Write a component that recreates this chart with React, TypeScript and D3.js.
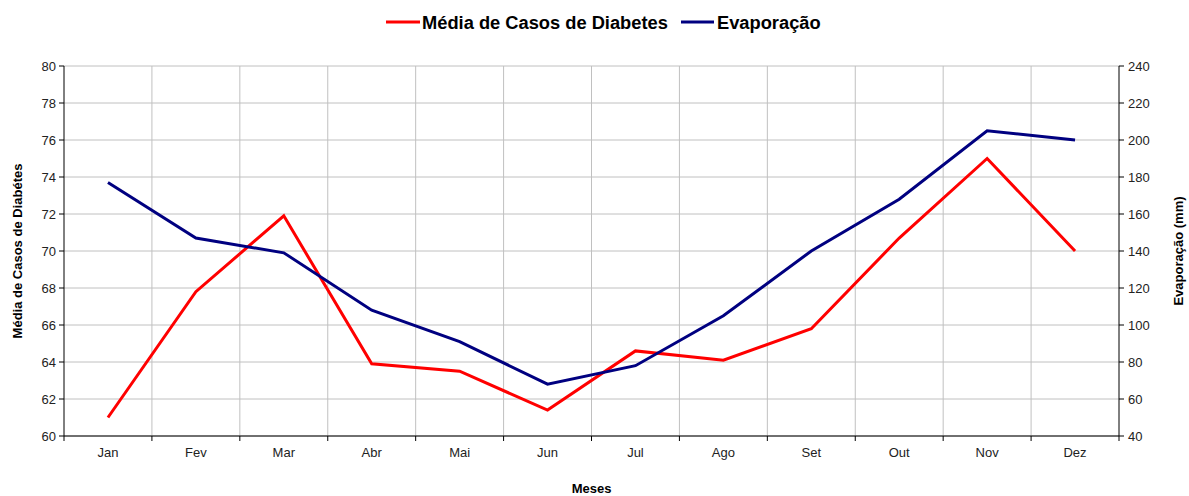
import React from "react";
import * as d3 from "d3";

const months = ["Jan", "Fev", "Mar", "Abr", "Mai", "Jun", "Jul", "Ago", "Set", "Out", "Nov", "Dez"];
const diabetes = [61.0, 67.8, 71.9, 63.9, 63.5, 61.4, 64.6, 64.1, 65.8, 70.7, 75.0, 70.0];
const evaporacao = [177, 147, 139, 108, 91, 68, 78, 105, 140, 168, 205, 200];
const leftTicks = [60, 62, 64, 66, 68, 70, 72, 74, 76, 78, 80];
const rightTicks = [40, 60, 80, 100, 120, 140, 160, 180, 200, 220, 240];

const W = 1189, H = 496;
const L = 64, R = 1119, T = 66, B = 436;
const FONT = "'Liberation Sans', Arial, Helvetica, sans-serif";

export default function App() {
  const x = d3.scaleBand<string>().domain(months).range([L, R]);
  const yL = d3.scaleLinear().domain([60, 80]).range([B, T]);
  const yR = d3.scaleLinear().domain([40, 240]).range([B, T]);
  const cx = (m: string) => (x(m) as number) + x.bandwidth() / 2;
  const lineL = d3.line<number>().x((_, i) => cx(months[i])).y((d) => yL(d));
  const lineR = d3.line<number>().x((_, i) => cx(months[i])).y((d) => yR(d));
  const boundaries = months.map((m) => x(m) as number).concat([R]);

  return (
    <svg width={W} height={H} style={{ position: "absolute", left: 0, top: 0 }} fontFamily={FONT}>
      <rect x={0} y={0} width={W} height={H} fill="#fff" />
      {leftTicks.map((t) => (
        <line key={"h" + t} x1={L} x2={R} y1={yL(t)} y2={yL(t)} stroke="#c0c0c0" strokeWidth={1} />
      ))}
      {boundaries.slice(1, -1).map((b, i) => (
        <line key={"v" + i} x1={b} x2={b} y1={T} y2={B} stroke="#c0c0c0" strokeWidth={1} />
      ))}
      <line x1={L} x2={L} y1={T} y2={B} stroke="#000" />
      <line x1={R} x2={R} y1={T} y2={B} stroke="#000" />
      <line x1={L} x2={R} y1={B} y2={B} stroke="#000" />
      {leftTicks.map((t) => (
        <g key={"lt" + t}>
          <line x1={L - 5} x2={L} y1={yL(t)} y2={yL(t)} stroke="#000" />
          <text x={L - 8} y={yL(t)} dy="0.35em" textAnchor="end" fontSize={13} fill="#222">{t}</text>
        </g>
      ))}
      {rightTicks.map((t) => (
        <g key={"rt" + t}>
          <line x1={R} x2={R + 5} y1={yR(t)} y2={yR(t)} stroke="#000" />
          <text x={R + 9} y={yR(t)} dy="0.35em" textAnchor="start" fontSize={13} fill="#222">{t}</text>
        </g>
      ))}
      {boundaries.map((b, i) => (
        <line key={"xt" + i} x1={b} x2={b} y1={B} y2={B + 5} stroke="#000" />
      ))}
      {months.map((m) => (
        <text key={m} x={cx(m)} y={457} textAnchor="middle" fontSize={13} fill="#222">{m}</text>
      ))}
      <path d={lineL(diabetes) || ""} fill="none" stroke="#ff0000" strokeWidth={3} />
      <path d={lineR(evaporacao) || ""} fill="none" stroke="#000080" strokeWidth={3} />
      <text x={(L + R) / 2} y={493} textAnchor="middle" fontSize={13} fontWeight="bold">Meses</text>
      <text transform={`translate(22,${(T + B) / 2}) rotate(-90)`} textAnchor="middle" fontSize={13} fontWeight="bold">Média de Casos de Diabétes</text>
      <text transform={`translate(1183,${(T + B) / 2}) rotate(-90)`} textAnchor="middle" fontSize={13} fontWeight="bold">Evaporação (mm)</text>
      <line x1={386} x2={420} y1={22} y2={22} stroke="#ff0000" strokeWidth={3} />
      <text x={422} y={29} fontSize={18.3} fontWeight="bold">Média de Casos de Diabetes</text>
      <line x1={681} x2={714} y1={22} y2={22} stroke="#000080" strokeWidth={3} />
      <text x={717} y={29} fontSize={18.3} fontWeight="bold">Evaporação</text>
    </svg>
  );
}
